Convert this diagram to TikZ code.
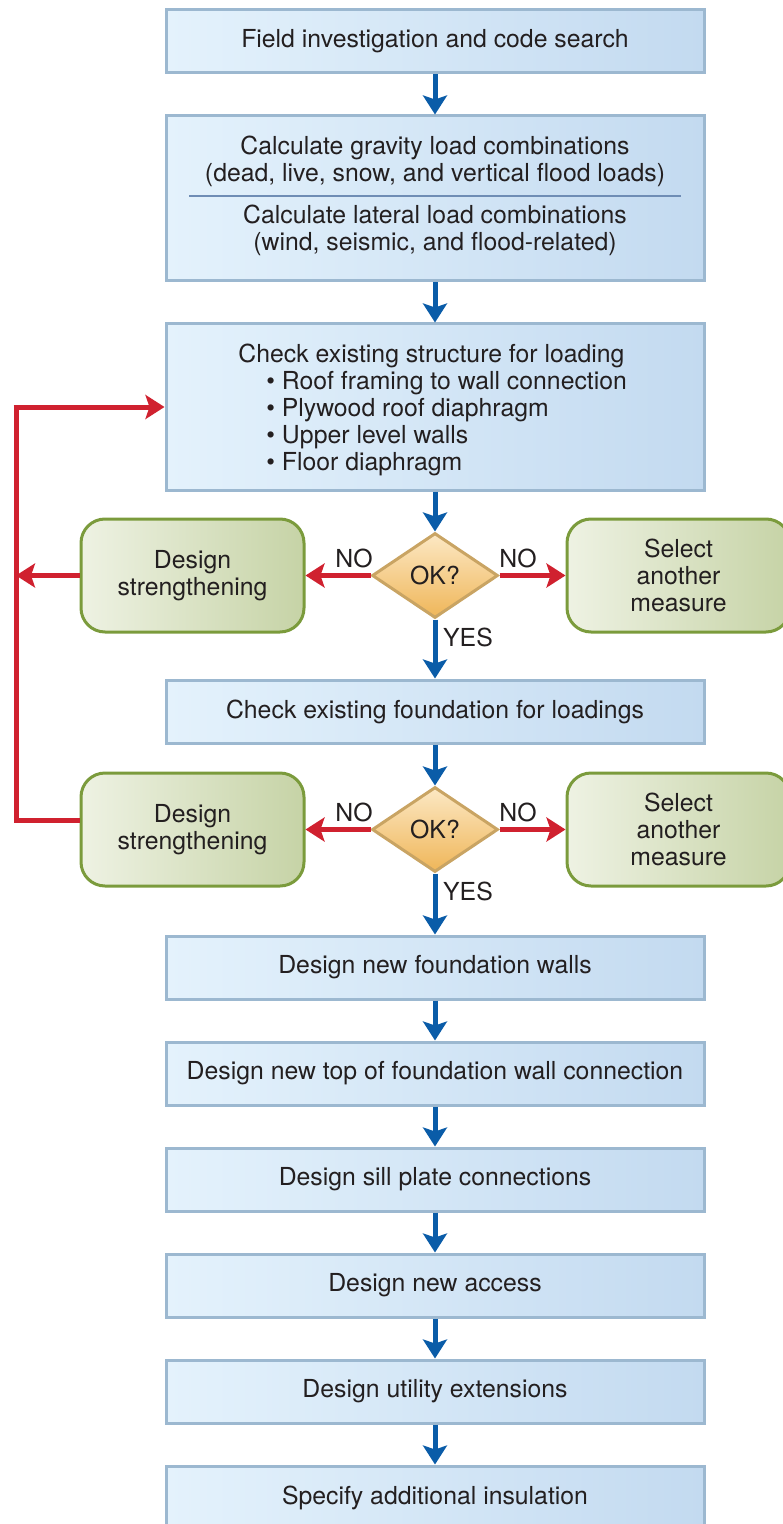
\documentclass[tikz,border=0pt]{standalone}
\usepackage{fontspec}
\setmainfont{TeX Gyre Heros}
\usetikzlibrary{shapes.geometric,arrows.meta}
\definecolor{txt}{HTML}{231F20}
\definecolor{bborder}{HTML}{9CB8D0}
\definecolor{blight}{HTML}{E4F2FC}
\definecolor{bdark}{HTML}{C3DAF0}
\definecolor{gborder}{HTML}{7B9B3C}
\definecolor{glight}{HTML}{EEF2E3}
\definecolor{gdark}{HTML}{C6D3A6}
\definecolor{dborder}{HTML}{C9A463}
\definecolor{dlight}{HTML}{FCE8C4}
\definecolor{ddark}{HTML}{EFB659}
\definecolor{flowblue}{HTML}{0A5CA8}
\definecolor{flowred}{HTML}{D0212F}
\definecolor{divider}{HTML}{6F8DB5}
\begin{document}
\begin{tikzpicture}[x=0.5pt,y=-0.5pt,
  font=\fontsize{12.4}{13.5}\selectfont, text=txt,
  bluebox/.style={rectangle, draw=bborder, line width=1.5pt, left color=blight, right color=bdark,
    minimum width=269pt, minimum height=31.5pt, inner sep=0pt, align=center},
  greenbox/.style={rectangle, rounded corners=12pt, draw=gborder, line width=1.5pt, left color=glight, right color=gdark,
    minimum width=111.5pt, minimum height=56.5pt, inner sep=0pt, align=center},
  okdiamond/.style={diamond, draw=dborder, line width=1.5pt, top color=dlight, bottom color=ddark,
    minimum width=63pt, minimum height=42.5pt, inner sep=0pt},
  bluearrow/.style={draw=flowblue, line width=2.5pt, -{Stealth[length=9.5pt,width=12pt,inset=2pt]}},
  redarrow/.style={draw=flowred, line width=2.5pt, -{Stealth[length=9.5pt,width=12pt,inset=2pt]}},
  redline/.style={draw=flowred, line width=2.5pt, line join=miter},
  lbl/.style={inner sep=0pt}
]
\useasboundingbox (0,0) rectangle (782,1524);

% blue boxes
\node[bluebox] (b1) at (435,41.5) {Field investigation and code search};
\node[bluebox, minimum height=82.5pt] (b2) at (435,198.5) {};
\node[lbl, align=center] (t2a) at (435,161.5) {Calculate gravity load combinations\\(dead, live, snow, and vertical flood loads)};
\node[lbl, align=center] (t2b) at (435,230) {Calculate lateral load combinations\\(wind, seismic, and flood-related)};
\draw[divider, line width=0.8pt] (189,196) -- (681,196);

\node[bluebox, minimum height=83pt] (b3) at (435,407) {};
\node[lbl, align=left, anchor=west] (t3) at (238,409.5) {Check existing structure for loading\\
\hspace{14pt}\textbullet\ Roof framing to wall connection\\
\hspace{14pt}\textbullet\ Plywood roof diaphragm\\
\hspace{14pt}\textbullet\ Upper level walls\\
\hspace{14pt}\textbullet\ Floor diaphragm};

\node[okdiamond] (d1) at (435,575.5) {OK?};
\node[greenbox] (g1) at (192.5,575.5) {Design\\strengthening};
\node[greenbox] (g2) at (678.5,575.5) {Select\\another\\measure};

\node[bluebox] (b4) at (435,711.5) {Check existing foundation for loadings};

\node[okdiamond] (d2) at (435,829.5) {OK?};
\node[greenbox] (g3) at (192.5,829.5) {Design\\strengthening};
\node[greenbox] (g4) at (678.5,829.5) {Select\\another\\measure};

\node[bluebox] (b5) at (435,967.5) {Design new foundation walls};
\node[bluebox] (b6) at (435,1073.5) {Design new top of foundation wall connection};
\node[bluebox] (b7) at (435,1179.5) {Design sill plate connections};
\node[bluebox] (b8) at (435,1285.5) {Design new access};
\node[bluebox] (b9) at (435,1391.5) {Design utility extensions};
\node[bluebox] (b10) at (435,1497.5) {Specify additional insulation};

% labels
\node[lbl] (no1) at (354,558) {NO};
\node[lbl] (no2) at (518,558) {NO};
\node[lbl] (yes1) at (468,637) {YES};
\node[lbl] (no3) at (354,812) {NO};
\node[lbl] (no4) at (518,812) {NO};
\node[lbl] (yes2) at (468,891) {YES};

% blue connectors
\draw[bluearrow] (b1) -- (b2);
\draw[bluearrow] (b2) -- (b3);
\draw[bluearrow] (b3) -- (d1);
\draw[bluearrow] (d1) -- (b4);
\draw[bluearrow] (b4) -- (d2);
\draw[bluearrow] (d2) -- (b5);
\draw[bluearrow] (b5) -- (b6);
\draw[bluearrow] (b6) -- (b7);
\draw[bluearrow] (b7) -- (b8);
\draw[bluearrow] (b8) -- (b9);
\draw[bluearrow] (b9) -- (b10);

% red connectors
\draw[redarrow] (d1.west) -- (g1.east);
\draw[redarrow] (d1.east) -- (g2.west);
\draw[redarrow] (d2.west) -- (g3.east);
\draw[redarrow] (d2.east) -- (g4.west);

\coordinate (lp1) at (16,575.5);
\coordinate (lp2) at (16,820);
\coordinate (lp3) at (16,407);
\draw[redarrow] (g1.west) -- (lp1);
\draw[redline] (g3.west |- lp2) -- (lp2) -- (lp3);
\draw[redarrow] ([xshift=-1.25pt]lp3) -- (b3.west);
\end{tikzpicture}
\end{document}
